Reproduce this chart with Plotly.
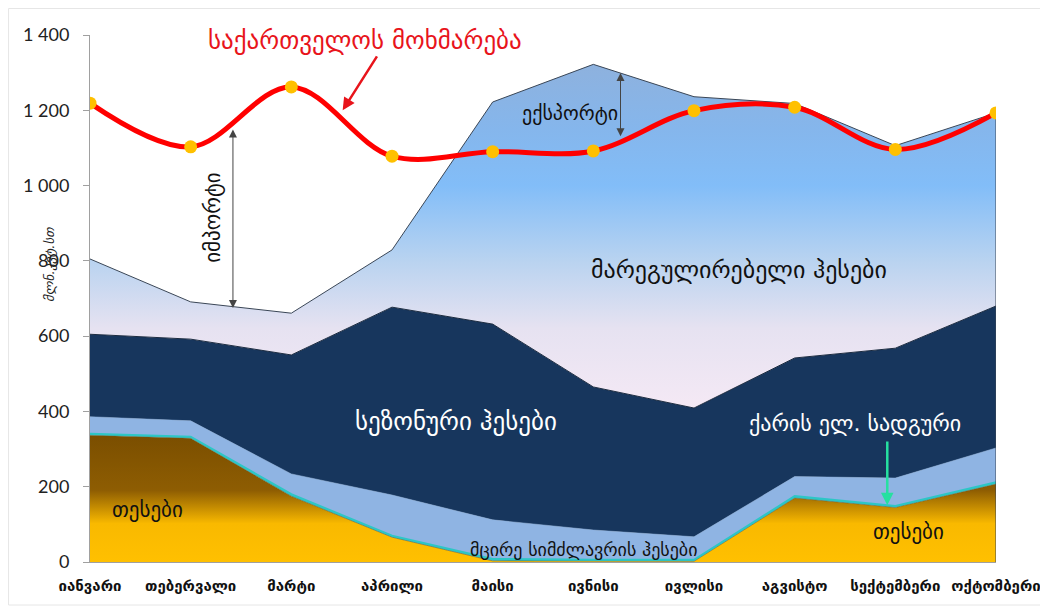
import numpy as np
import plotly.graph_objects as go

# months (Georgian)
months = ["იანვარი", "თებერვალი", "მარტი", "აპრილი", "მაისი",
          "ივნისი", "ივლისი", "აგვისტო", "სექტემბერი", "ოქტომბერი"]

# generation by type, mln kWh
tpp = [337, 329, 175, 66, 3, 2, 2, 170, 145, 207]
wind = [4, 4, 5, 4, 5, 4, 4, 5, 4, 5]
small_hpp = [45, 42, 54, 108, 104, 79, 61, 52, 74, 91]
seasonal_hpp = [219, 217, 316, 499, 520, 380, 342, 315, 345, 377]
regulating_hpp = [200, 99, 111, 152, 590, 857, 827, 676, 538, 513]

# consumption of Georgia
consumption = [1219, 1103, 1262, 1078, 1090, 1092, 1199, 1208, 1096, 1193]

GEO = "DejaVu Sans"

layers = [
    (tpp, dict(type="vertical", start=0, stop=340,
               colorscale=[[0, "#ffc000"], [0.3, "#f9b900"], [0.56, "#8e5d02"], [1, "#7a4e00"]]),
     None, dict(color="#6a5a30", width=0.6)),
    (wind, None, "#2dc6c6", dict(color="#2dc6c6", width=2)),
    (small_hpp, None, "#8fb4e3", dict(color="#8fb4e3", width=0.5)),
    (seasonal_hpp, None, "#17365d", dict(color="#1b2b40", width=1)),
    (regulating_hpp, dict(type="vertical", start=400, stop=1330,
                          colorscale=[[0, "#f5e9f5"], [0.237, "#e6e2f1"], [0.43, "#b9d3f0"],
                                      [0.645, "#82bdf8"], [0.806, "#85b6ec"], [1, "#8eb1dd"]]),
     None, dict(color="#3a4656", width=1)),
]

fig = go.Figure()
cum = np.zeros(len(months))
for i, (vals, grad, color, line) in enumerate(layers):
    cum = cum + np.array(vals)
    tr = dict(x=months, y=cum.copy(), mode="lines", line=line,
              fill="tozeroy" if i == 0 else "tonexty", hoverinfo="skip", showlegend=False)
    if grad is not None:
        tr["fillgradient"] = grad
    else:
        tr["fillcolor"] = color
    fig.add_trace(go.Scatter(**tr))

# right edge of the stack
fig.add_trace(go.Scatter(x=[months[-1], months[-1]], y=[0, cum[-1]], mode="lines",
                         line=dict(color="#3a4656", width=1), hoverinfo="skip", showlegend=False))

fig.add_trace(go.Scatter(x=months, y=consumption, mode="lines+markers",
                         line=dict(color="#ff0000", width=5, shape="spline", smoothing=1.0),
                         marker=dict(color="#ffc000", size=13),
                         hoverinfo="skip", showlegend=False))

def label(x, y, text, size, color="#111111", angle=0, italic=False):
    fig.add_annotation(x=x, y=y, text=text, showarrow=False, textangle=angle,
                       font=dict(family=GEO, size=size, color=color,
                                 style="italic" if italic else "normal"))

label(2.73, 1386, "საქართველოს მოხმარება", 25, color="#e8141b")
label(6.45, 775, "მარეგულირებელი ჰესები", 24)
label(3.64, 372, "სეზონური ჰესები", 25, color="white")
label(0.57, 138, "თესები", 21)
label(8.13, 80, "თესები", 21)
label(4.9, 32, "მცირე სიმძლავრის ჰესები", 18)
label(7.6, 369, "ქარის ელ. სადგური", 22, color="white")
label(4.77, 1192, "ექსპორტი", 20)
label(1.22, 914, "იმპორტი", 21, angle=-90)

# arrows
def arrow(x0, y0, x1, y1, color, width, both=False, size=1.0):
    fig.add_annotation(x=x1, y=y1, ax=x0, ay=y0, xref="x", yref="y", axref="x", ayref="y",
                       text="", showarrow=True, arrowhead=2, arrowsize=size,
                       arrowwidth=width, arrowcolor=color,
                       arrowside="end+start" if both else "end")

arrow(2.86, 1347, 2.51, 1200, "#e8141b", 2.5, size=1.0)
arrow(1.42, 1153, 1.42, 675, "#444444", 1, both=True, size=1.6)
arrow(5.27, 1303, 5.27, 1131, "#444444", 1, both=True, size=1.6)
arrow(7.92, 324, 7.92, 151, "#26e0a0", 2.5, size=1.0)

# y axis title
fig.add_annotation(xref="paper", yref="paper", x=-0.056, y=0.565, text="მლნ.კვტ.სთ",
                   showarrow=False, textangle=-90,
                   font=dict(family=GEO, size=13, color="#222222", style="italic"))

# faint frame
fig.add_shape(type="rect", xref="paper", yref="paper", x0=-0.0899, x1=1.07, y0=-0.0816, y1=1.0503,
              line=dict(color="#e6e6e6", width=1))

# page body has an 8px margin, so margins are shifted to land where the reference draws
fig.update_layout(
    width=1048, height=606,
    margin=dict(l=82, r=60, t=27, b=52),
    plot_bgcolor="white", paper_bgcolor="white",
    separators=". ",
    xaxis=dict(type="category", range=[0, 9], showgrid=False, showline=True,
               linecolor="#a0a0a0", ticks="outside", ticklen=10, tickcolor="white",
               automargin=False,
               tickfont=dict(family=GEO, size=15, color="#111111", weight="bold")),
    yaxis=dict(range=[0, 1400], tickvals=list(range(0, 1401, 200)), tickformat=",d",
               showgrid=False, zeroline=False, showline=True, linecolor="#a0a0a0",
               ticks="outside", ticklen=6, tickcolor="#a0a0a0", automargin=False,
               ticklabelstandoff=10,
               tickfont=dict(family="Lato", size=18, color="#222222")),
)

fig.write_html("out.html")
